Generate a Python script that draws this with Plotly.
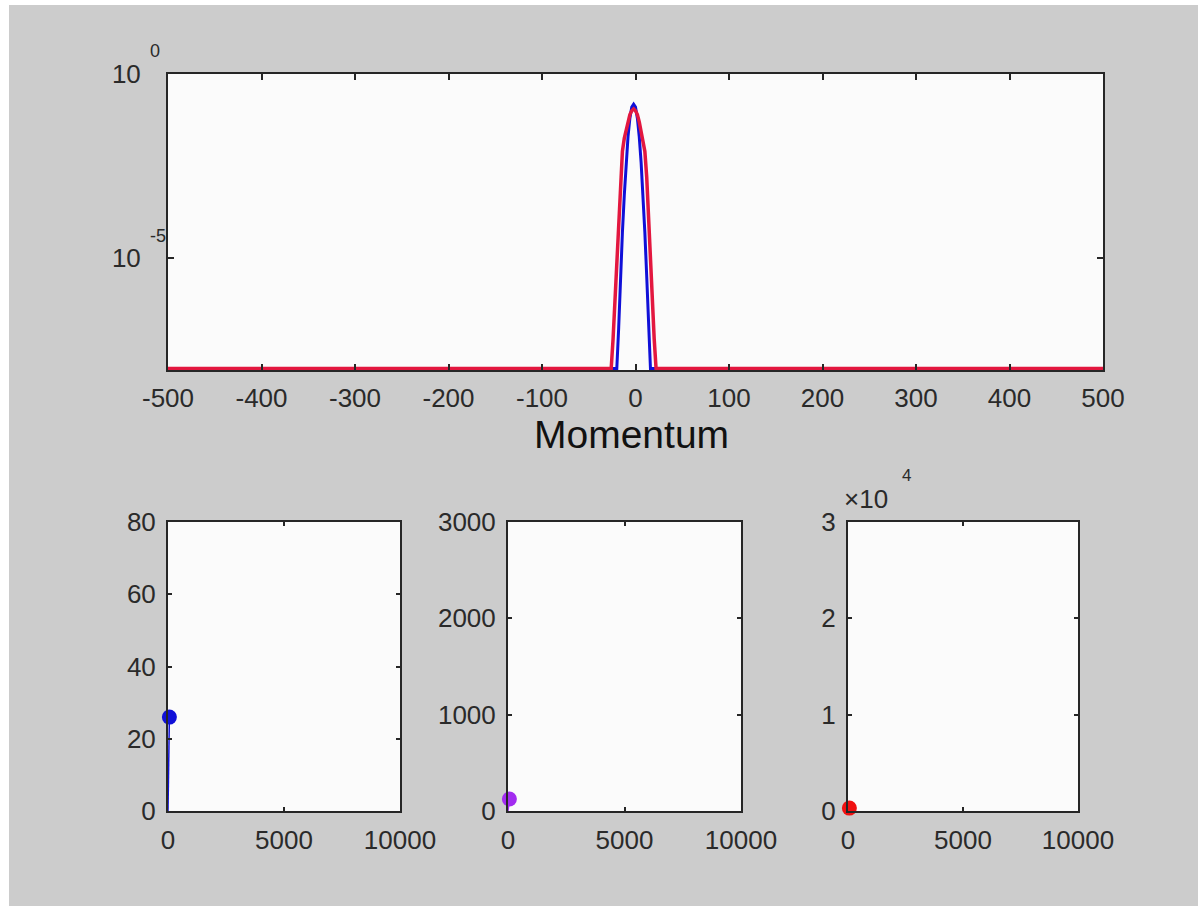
import plotly.graph_objects as go

# ---- top panel: momentum distributions ----
momentum_blue = [-500, -20, -18, -16, -14, -12, -10, -8, -6, -4, -2, 0, 2, 4, 6, 8, 10, 12, 14, 16, 500]
prob_blue = [1e-8, 1e-8, 1.26e-7, 3.16e-6, 5.0e-5, 5.0e-4, 3.98e-3, 2.0e-2, 6.31e-2, 1.26e-1, 1.51e-1,
             1.26e-1, 6.31e-2, 2.0e-2, 3.98e-3, 5.0e-4, 5.0e-5, 3.16e-6, 1.26e-7, 1e-8, 1e-8]

momentum_red = [-500, -26, -24, -22, -20, -18, -16, -14, -12, -10, -8, -6, -4, -2,
                0, 2, 4, 6, 8, 10, 12, 14, 16, 18, 20, 22, 500]
prob_red = [1e-8, 1e-8, 6.3e-8, 6.3e-7, 6.3e-6, 1e-4, 1.58e-3, 7.94e-3, 1.78e-2, 2.82e-2, 5.01e-2, 7.94e-2, 1e-1, 1.12e-1,
            1e-1, 7.94e-2, 5.01e-2, 2.82e-2, 1.78e-2, 7.94e-3, 1.58e-3, 1e-4, 6.3e-6, 6.3e-7, 6.3e-8, 1e-8, 1e-8]

top_xticks = [-500, -400, -300, -200, -100, 0, 100, 200, 300, 400, 500]
top_xticktext = ["-500", "-400", "-300", "-200", "-100", "0", "100", "200", "300", "400", "500"]
top_yticks = [1e-5, 1]
top_yticktext = ["10", "10"]
top_yexponents = ["-5", "0"]
top_xlabel = "Momentum"

# ---- bottom panels: time series ----
time_steps = [0, 60]
series_blue = [0, 26]
series_purple = [0, 125]
series_red = [0, 300]
bottom_xticks = [0, 5000, 10000]
bottom_xticktext = ["0", "5000", "10000"]
p1_yticks = [0, 20, 40, 60, 80]
p2_yticks = [0, 1000, 2000, 3000]
p3_yticks = [0, 10000, 20000, 30000]
p3_yticktext = ["0", "1", "2", "3"]

W, H = 1198, 906
BG = "#cccccc"
PLOTBG = "#fbfbfb"
AX = "#262626"
TXT = "#2a2a2a"
FONT = "Liberation Sans, Arial, sans-serif"

BLUE = "#1010d8"
RED = "#e3173f"
PURPLE = "#a22cf0"
DOT_RED = "#f01010"


def fx(px):
    return px / W


def fy(py):
    return 1 - py / H


fig = go.Figure()

fig.add_trace(go.Scatter(x=momentum_blue, y=prob_blue, mode="lines",
                         line=dict(color=BLUE, width=3), xaxis="x", yaxis="y", showlegend=False))
fig.add_trace(go.Scatter(x=momentum_red, y=prob_red, mode="lines",
                         line=dict(color=RED, width=3.5), xaxis="x", yaxis="y", showlegend=False))

for xs, ys, col, n in [(time_steps, series_blue, BLUE, 2), (time_steps, series_purple, PURPLE, 3),
                       (time_steps, series_red, DOT_RED, 4)]:
    fig.add_trace(go.Scatter(x=xs, y=ys, mode="lines+markers",
                             line=dict(color=col, width=1.5),
                             marker=dict(size=[0, 15], color=col, opacity=1, line=dict(width=0)),
                             cliponaxis=False, xaxis=f"x{n}", yaxis=f"y{n}", showlegend=False))

common = dict(showline=True, linecolor=AX, linewidth=2, mirror="ticks", ticks="inside",
              tickcolor=AX, tickwidth=1.5, showgrid=False, zeroline=False, automargin=False,
              tickfont=dict(family=FONT, size=26, color=TXT))

top_l, top_r, top_t, top_b = 168, 1103, 74, 370
bot_t, bot_b = 522, 811
panels = [(168, 400), (508, 741), (848, 1078)]

fig.update_layout(
    width=W, height=H, autosize=False,
    margin=dict(l=0, r=0, t=0, b=0, pad=0, autoexpand=False),
    paper_bgcolor=BG, plot_bgcolor=PLOTBG,
    xaxis=dict(domain=[fx(top_l), fx(top_r)], range=[-500, 500], tickvals=top_xticks,
               ticktext=top_xticktext, ticklen=6, anchor="y", ticklabelstandoff=4, **common),
    yaxis=dict(domain=[fy(top_b), fy(top_t)], type="log", range=[-8.04, 0], tickvals=top_yticks,
               ticktext=top_yticktext, ticklen=6, anchor="x", ticklabelstandoff=20, **common),
)

for i, (l, r) in enumerate(panels):
    n = i + 2
    yt = [p1_yticks, p2_yticks, p3_yticks][i]
    yr = [[0, 80], [0, 3000], [0, 30000]][i]
    ydict = dict(domain=[fy(bot_b), fy(bot_t)], range=yr, tickvals=yt, ticklen=4,
                 anchor=f"x{n}", ticklabelstandoff=5, **common)
    if i == 2:
        ydict["ticktext"] = p3_yticktext
    fig.update_layout(**{
        f"xaxis{n}": dict(domain=[fx(l), fx(r)], range=[0, 10000], tickvals=bottom_xticks,
                          ticktext=bottom_xticktext, ticklen=4,
                          anchor=f"y{n}", ticklabelstandoff=5, **common),
        f"yaxis{n}": ydict,
    })

# x-axis label of top panel
fig.add_annotation(text=top_xlabel, x=fx(631), y=fy(434), xref="paper", yref="paper",
                   xanchor="center", yanchor="middle", showarrow=False, borderpad=0,
                   font=dict(family=FONT, size=39, color="#111111"))

# exponents of the log tick labels
for py, txt in [(51, top_yexponents[1]), (236, top_yexponents[0])]:
    fig.add_annotation(text=txt, x=fx(148), y=fy(py), xref="paper", yref="paper",
                       xanchor="left", yanchor="middle", showarrow=False,
                       font=dict(family=FONT, size=18, color=TXT))

fig.add_annotation(text="×10", x=fx(842), y=fy(499), xref="paper", yref="paper",
                   xanchor="left", yanchor="middle", showarrow=False,
                   font=dict(family=FONT, size=26, color=TXT))
fig.add_annotation(text="4", x=fx(900), y=fy(475), xref="paper", yref="paper",
                   xanchor="left", yanchor="middle", showarrow=False,
                   font=dict(family=FONT, size=17, color=TXT))

# white frame strips of the original screenshot
fig.add_shape(type="rect", xref="paper", yref="paper", x0=0, x1=fx(9), y0=0, y1=1,
              fillcolor="white", line=dict(width=0), layer="below")
fig.add_shape(type="rect", xref="paper", yref="paper", x0=0, x1=1, y0=fy(5), y1=1,
              fillcolor="white", line=dict(width=0), layer="below")

fig.write_html("out.html", config={"displayModeBar": False},
               post_script="document.body.style.margin='0';document.body.style.overflow='hidden';")
